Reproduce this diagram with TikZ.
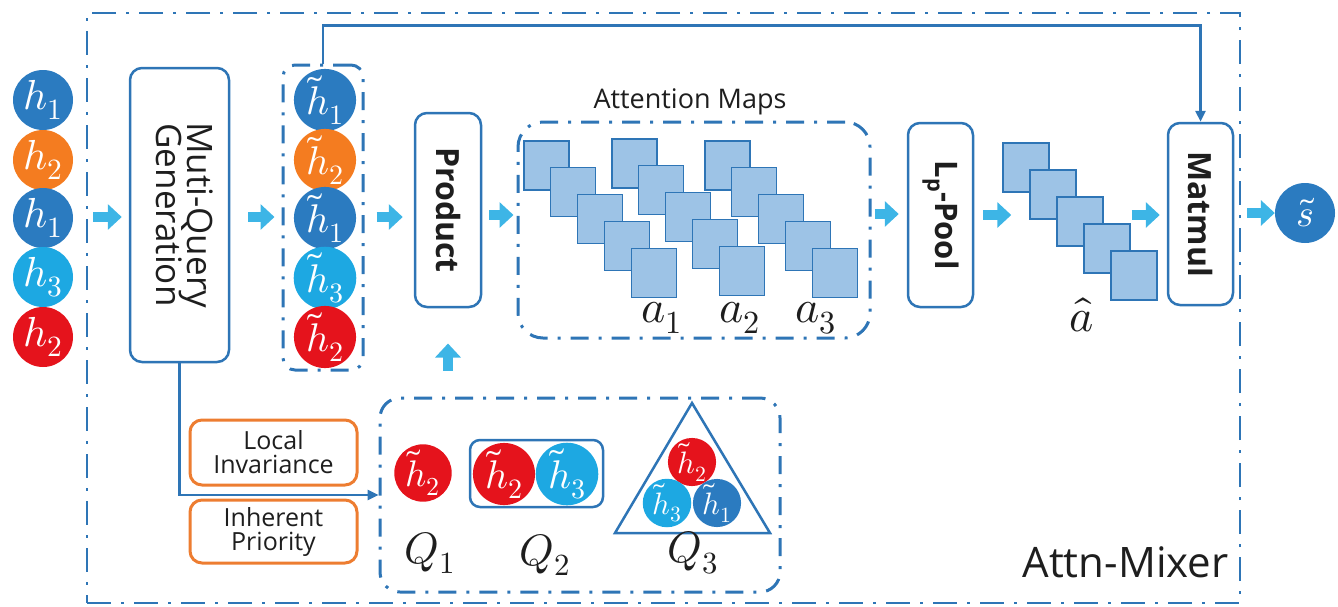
\documentclass[tikz,border=0pt]{standalone}
\usepackage{fontspec}
\usepackage{unicode-math}
\setmainfont{Open Sans}
\setmathfont{Latin Modern Math}
\usetikzlibrary{arrows.meta}
\definecolor{cdark}{HTML}{2B7BC0}
\definecolor{corange}{HTML}{F47C20}
\definecolor{ccyan}{HTML}{1DA8E2}
\definecolor{cred}{HTML}{E5131C}
\definecolor{cline}{HTML}{2E75B6}
\definecolor{carrow}{HTML}{3DB5E6}
\definecolor{cfill}{HTML}{9DC3E6}
\definecolor{cbox}{HTML}{ED7D31}
\definecolor{ctext}{HTML}{1E1E1E}
\newcommand{\fs}[1]{\fontsize{#1}{#1}\selectfont}
\begin{document}
\begin{tikzpicture}[x=1pt,y=-1pt,
  ball/.style={circle, inner sep=0pt, minimum size=60pt, text=white, font=\fs{42}},
  sball/.style={ball, minimum size=#1},
  dk/.style={fill=cdark}, og/.style={fill=corange}, cy/.style={fill=ccyan}, rd/.style={fill=cred},
  blk/.style={draw=cline, line width=2.5pt, rounded corners=12pt, fill=white, inner sep=0pt, text=ctext},
  ddash/.style={draw=cline, line width=3pt, dash pattern=on 18pt off 10pt on 3pt off 10pt},
  oddash/.style={draw=cline, line width=2.5pt, dash pattern=on 24pt off 10pt on 3pt off 10pt},
  barrow/.style={draw=carrow, line width=10pt, -{Triangle[length=14pt,width=25pt]}},
  conn/.style={draw=cline, line width=2.5pt},
  tip/.style={-{Triangle[length=11pt,width=10pt]}},
  sq/.style={draw=cline, fill=cfill, line width=1.3pt},
  obox/.style={draw=cbox, line width=3pt, rounded corners=12pt, inner sep=0pt, align=center, text=ctext, font=\fs{25}},
  mlab/.style={text=ctext, font=\fs{46}}
]
\useasboundingbox (0,0) rectangle (1338,606);

% outer box
\node[oddash, rectangle, minimum width=1153pt, minimum height=590pt, inner sep=0pt] (mixer) at (663.5,308) {};
\node[anchor=east, text=ctext, font=\fs{42}] (mixlab) at (1232,562) {Attn-Mixer};

% input column
\node[ball,dk] (i1) at (43,100) {$h_1$};
\node[ball,og] (i2) at (43,160) {$h_2$};
\node[ball,dk] (i3) at (43,218) {$h_1$};
\node[ball,cy] (i4) at (43,277) {$h_3$};
\node[ball,rd] (i5) at (43,337) {$h_2$};

% multi-query generation
\node[blk, minimum width=99pt, minimum height=294pt, font=\fs{35}] (mqg) at (179.5,215)
  {\rotatebox{-90}{\begin{tabular}{@{}c@{}}Muti-Query\\[-6pt]Generation\end{tabular}}};

% tilde h column
\node[ddash, rectangle, rounded corners=12pt, minimum width=80pt, minimum height=305pt, inner sep=0pt] (hbox) at (323,217.5) {};
\node[sball=58pt,dk,font=\fs{40}] (t1) at (325,100) {$\tilde h_1$};
\node[sball=58pt,og,font=\fs{40}] (t2) at (325,160) {$\tilde h_2$};
\node[sball=58pt,dk,font=\fs{40}] (t3) at (325,218) {$\tilde h_1$};
\node[sball=58pt,cy,font=\fs{40}] (t4) at (325,278) {$\tilde h_3$};
\node[sball=58pt,rd,font=\fs{40}] (t5) at (325,337) {$\tilde h_2$};

% product
\node[blk, minimum width=66pt, minimum height=194pt, font=\fs{32}\bfseries] (prod) at (448,210) {\rotatebox{-90}{Product}};

% attention maps
\node[ddash, rectangle, rounded corners=25pt, minimum width=352pt, minimum height=216pt, inner sep=0pt] (am) at (694,230) {};
\node[text=ctext, font=\fs{27}] (amlab) at (690,102) {Attention Maps};
\foreach \sx/\sy in {524/141, 612/139, 705/141}{
  \foreach \i in {0,...,4}{
    \path[sq] ({\sx+26.8*\i},{\sy+26.8*\i}) rectangle ++(45,49);
  }
}
\node[mlab] (a1) at (662,318) {$a_1$};
\node[mlab] (a2) at (740,318) {$a_2$};
\node[mlab] (a3) at (816,318) {$a_3$};

% Lp pool
\node[blk, minimum width=65pt, minimum height=184pt, font=\fs{31}\bfseries] (lp) at (940.5,215) {\rotatebox{-90}{L\textsubscript{p}-Pool}};

% a hat squares
\foreach \i in {0,...,4}{
  \path[sq] ({1003+27*\i},{143+27*\i}) rectangle ++(46,49);
}
\node[mlab] (ahat) at (1082,315) {$\hat a$};

% matmul
\node[blk, minimum width=65pt, minimum height=182pt, font=\fs{32}\bfseries] (mm) at (1200.5,214) {\rotatebox{-90}{Matmul}};

% output
\node[ball,dk,font=\fs{38}] (s) at (1305,213) {$\tilde s$};

% query box
\node[ddash, rectangle, rounded corners=20pt, minimum width=400pt, minimum height=194pt, inner sep=0pt] (qbox) at (580,495) {};
\node[obox, minimum width=167pt, minimum height=65pt] (li) at (273.5,452.5) {Local\\[-1pt]Invariance};
\node[obox, minimum width=167pt, minimum height=63pt] (ip) at (273.5,531.5) {Inherent\\[-1pt]Priority};

\node[sball=52pt,rd,font=\fs{37}] (q1c) at (423,473) {$\tilde h_2$};
\node[draw=cline, line width=2.5pt, rounded corners=10pt, minimum width=133pt, minimum height=67pt, inner sep=0pt] (q2box) at (536.5,473.5) {};
\node[sball=58pt,rd,font=\fs{40}] (q2a) at (504,474) {$\tilde h_2$};
\node[sball=58pt,cy,font=\fs{40}] (q2b) at (567,474) {$\tilde h_3$};
\draw[draw=cline, line width=2.5pt, line join=miter] (692,403) -- (770,533) -- (615,533) -- cycle;
\node[sball=46pt,rd,font=\fs{31}] (q3a) at (692,462) {$\tilde h_2$};
\node[sball=46pt,cy,font=\fs{31}] (q3b) at (667,503) {$\tilde h_3$};
\node[sball=46pt,dk,font=\fs{31}] (q3c) at (717,503) {$\tilde h_1$};
\node[mlab,font=\fs{44}] (Q1) at (430,553) {$Q_1$};
\node[mlab,font=\fs{44}] (Q2) at (545,555) {$Q_2$};
\node[mlab,font=\fs{44}] (Q3) at (693,553) {$Q_3$};

% block arrows
\draw[barrow] ([xshift=20pt]i3.east |- 0,217) -- ([xshift=-7pt]mqg.west |- 0,217);
\draw[barrow] ([xshift=18pt]mqg.east |- 0,217) -- ([xshift=-7pt]hbox.west |- 0,217);
\draw[barrow] ([xshift=12pt]hbox.east |- 0,217) -- ([xshift=-11pt]prod.west |- 0,217);
\draw[barrow] ([xshift=7pt]prod.east |- 0,215) -- ([xshift=-3pt]am.west |- 0,215);
\draw[barrow] ([xshift=3pt]am.east |- 0,214) -- ([xshift=-8pt]lp.west |- 0,214);
\draw[barrow] ([xshift=9pt]lp.east |- 0,215) -- ([xshift=37pt]lp.east |- 0,215);
\draw[barrow] ([xshift=-35pt]mm.west |- 0,215) -- ([xshift=-7pt]mm.west |- 0,215);
\draw[barrow] ([xshift=13pt]mm.east |- 0,213) -- (s.west);
\draw[barrow] ([yshift=26pt]prod.south |- qbox.north) -- ([yshift=53pt]prod.south |- qbox.north);

% connectors
\draw[conn, tip] (hbox.north) -- ++(0,-38) -| (mm.north);
\draw[conn, tip] (mqg.south) |- (qbox.west);
\end{tikzpicture}
\end{document}
